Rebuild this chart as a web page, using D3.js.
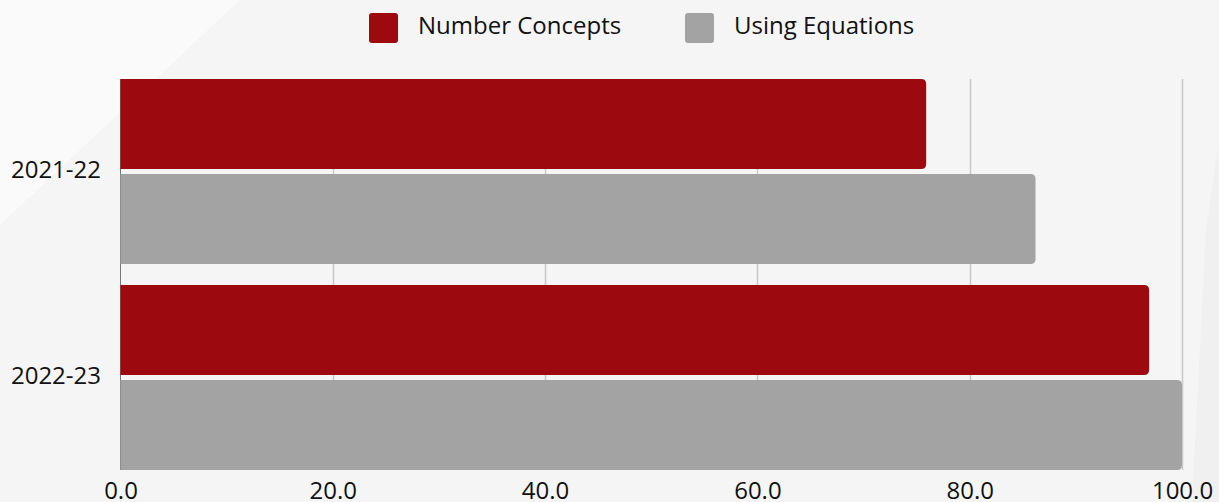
<!DOCTYPE html>
<html>
<head>
<meta charset="utf-8">
<script src="https://cdn.jsdelivr.net/npm/d3@7"></script>
<style>
  html, body { margin: 0; padding: 0; background: #f5f5f5; }
  svg { display: block; font-family: "Open Sans", "Noto Sans", sans-serif; }
</style>
</head>
<body>
<svg id="chart" width="1219" height="502"></svg>
<script>
// Chart data
const years = ["2021-22", "2022-23"];
const seriesNames = ["Number Concepts", "Using Equations"];
const numberConcepts = [75.9, 96.9];
const usingEquations = [86.2, 100.0];
const xTicks = [0, 20, 40, 60, 80, 100];
const seriesColors = ["#9c0a10", "#a3a3a3"];

const seriesValues = [numberConcepts, usingEquations];
const rows = years.map((y, i) => ({
  year: y,
  values: seriesNames.map((s, j) => ({ series: s, idx: j, value: seriesValues[j][i] }))
}));

const W = 1219, H = 502;
const svg = d3.select("#chart");

// Background with soft lighter panels
svg.append("rect").attr("width", W).attr("height", H).attr("fill", "#f5f5f5");
svg.append("path").attr("d", "M0,0 L240,0 L0,225 Z").attr("fill", "#fafafa");
svg.append("path").attr("d", "M1219,140 L1219,502 L1192,502 L1206,230 Z").attr("fill", "#f0f0f0");

const plotTop = 79, plotBottom = 470, plotLeft = 120.5, plotRight = 1182;

const x = d3.scaleLinear().domain([0, 100]).range([plotLeft, plotRight]);
const y = d3.scaleBand().domain(years).range([plotTop, plotBottom])
  .paddingInner(21 / 206).paddingOuter(0);
const ySub = d3.scaleBand().domain(seriesNames).range([0, y.bandwidth()])
  .paddingInner(5 / 95).paddingOuter(0);

// Vertical grid lines
svg.append("g")
  .selectAll("line")
  .data(xTicks.filter(t => t > 0))
  .join("line")
  .attr("x1", d => Math.round(x(d)) + 0.5)
  .attr("x2", d => Math.round(x(d)) + 0.5)
  .attr("y1", plotTop)
  .attr("y2", plotBottom)
  .attr("stroke", "#c8c8c8")
  .attr("stroke-width", 1.5);

// Category axis line
svg.append("line")
  .attr("x1", plotLeft).attr("x2", plotLeft)
  .attr("y1", plotTop).attr("y2", plotBottom)
  .attr("stroke", "#777").attr("stroke-width", 1);

// Bars with rounded right end
function barPath(x0, y0, w, h, r) {
  r = Math.min(r, w, h / 2);
  return `M${x0},${y0} H${x0 + w - r} Q${x0 + w},${y0} ${x0 + w},${y0 + r} V${y0 + h - r} Q${x0 + w},${y0 + h} ${x0 + w - r},${y0 + h} H${x0} Z`;
}

const groups = svg.append("g")
  .selectAll("g")
  .data(rows)
  .join("g")
  .attr("transform", d => `translate(0,${y(d.year)})`);

groups.selectAll("path")
  .data(d => d.values)
  .join("path")
  .attr("d", d => barPath(x(0), ySub(d.series), x(d.value) - x(0), ySub.bandwidth(), 5))
  .attr("fill", d => seriesColors[d.idx]);

// Category labels
svg.append("g")
  .selectAll("text")
  .data(years)
  .join("text")
  .attr("x", 101)
  .attr("y", d => y(d) + y.bandwidth() / 2)
  .attr("dy", "0.29em")
  .attr("text-anchor", "end")
  .attr("font-size", 24)
  .attr("fill", "#111")
  .text(d => d);

// Value axis labels
const xAxis = d3.axisBottom(x).tickValues(xTicks).tickFormat(d3.format(".1f")).tickSize(0).tickPadding(0);
const xg = svg.append("g").attr("transform", `translate(0,${plotBottom})`).call(xAxis);
xg.select(".domain").remove();
xg.selectAll("text")
  .attr("font-size", 24)
  .attr("font-family", "Open Sans, Noto Sans, sans-serif")
  .attr("fill", "#111")
  .attr("y", 29)
  .attr("dy", "0");

// Legend
const legendItems = [
  { name: seriesNames[0], color: seriesColors[0], x: 369 },
  { name: seriesNames[1], color: seriesColors[1], x: 685 }
];
const lg = svg.append("g").selectAll("g").data(legendItems).join("g")
  .attr("transform", d => `translate(${d.x},13)`);
lg.append("rect")
  .attr("width", 29).attr("height", 30).attr("rx", 3)
  .attr("fill", d => d.color);
lg.append("text")
  .attr("x", 49).attr("y", 21)
  .attr("font-size", 24).attr("fill", "#111")
  .text(d => d.name);
</script>
</body>
</html>
